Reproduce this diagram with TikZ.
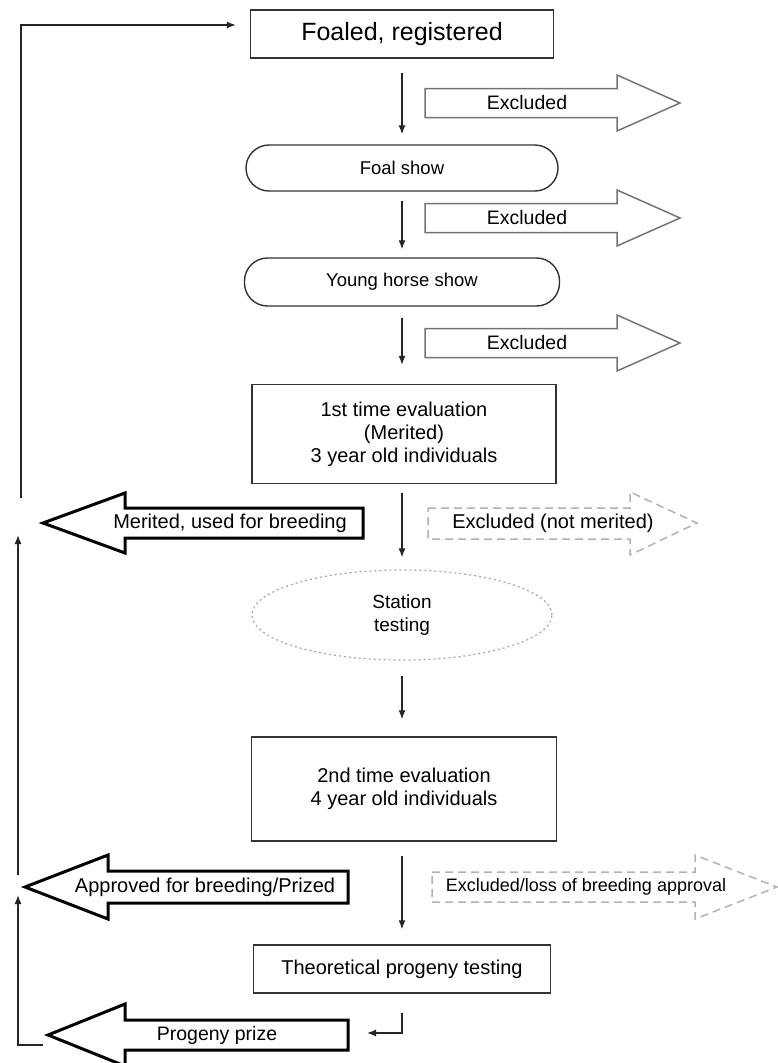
\documentclass[tikz,border=0pt]{standalone}
\usepackage{fontspec}
\setmainfont{Liberation Sans}
\usetikzlibrary{
    arrows.meta,
    shapes.geometric
}
\tikzset{
    >={Latex[length=9pt,width=7pt]},
    box/.style={
        rectangle, draw=black!80, line width=1.4pt,
        inner sep=0pt, align=center,
        font=\fontsize{20}{23}\selectfont
    },
    show/.style={box, rounded corners=23pt, font=\fontsize{18.5}{22}\selectfont},
    flow/.style={->, draw=black!85, line width=1.3pt},
    exarrow/.style={draw=black!55, line width=1.5pt},
    exdash/.style={draw=gray!60, line width=1.5pt, dash pattern=on 8pt off 5pt},
    keeparrow/.style={draw=black, line width=3pt},
    lbl/.style={inner sep=0pt, font=\fontsize{19.5}{22}\selectfont},
    keeplbl/.style={inner sep=0pt, font=\fontsize{20}{24}\selectfont}
}

\begin{document}
\begin{tikzpicture}[x=1pt, y=-1pt]
    \useasboundingbox (0,0) rectangle (777,1063);

    % Etapas
    \node[box, minimum width=303pt, minimum height=48pt,
          font=\fontsize{25}{30}\selectfont]      (foaled) at (402,34)  {Foaled, registered};
    \node[show, minimum width=312pt, minimum height=46pt] (foal)   at (402,168) {Foal show};
    \node[show, minimum width=315pt, minimum height=48pt] (young)  at (402,282) {Young horse show};
    \node[box, minimum width=304pt, minimum height=99pt]  (eval1)  at (404,434)
        {1st time evaluation\\(Merited)\\3 year old individuals};
    \node[ellipse, draw=gray!70, line width=1.2pt, dash pattern=on 2pt off 3pt,
          minimum width=300pt, minimum height=90pt, inner sep=0pt, align=center,
          font=\fontsize{19}{23}\selectfont]     (station) at (402,615) {Station\\testing};
    \node[box, minimum width=305pt, minimum height=104pt] (eval2) at (404,789)
        {2nd time evaluation\\4 year old individuals};
    \node[box, minimum width=297pt, minimum height=48pt]  (theo)  at (402,969)
        {Theoretical progeny testing};

    % Flujo principal
    \draw[flow, shorten <=14pt, shorten >=10pt] (foaled) -- (foal);
    \draw[flow, shorten <=9pt,  shorten >=8pt]  (foal) -- (young);
    \draw[flow, shorten <=11pt, shorten >=19pt] (young) -- (eval1.north -| young);
    \draw[flow, shorten <=9pt,  shorten >=12pt] (eval1.south -| station) -- (station);
    \draw[flow, shorten <=15pt, shorten >=17pt] (station) -- (eval2.north -| station);
    \draw[flow, shorten <=14pt, shorten >=15pt] (eval2.south -| theo) -- (theo);

    % Excluidos
    \foreach \y/\n in {103/exa, 218/exb, 343/exc}{
        \draw[exarrow] (425,\y-14.5) -- (617,\y-14.5) -- (617,\y-28)
            -- (680,\y) -- (617,\y+28) -- (617,\y+14.5) -- (425,\y+14.5) -- cycle;
        \node[lbl] (\n) at (527,\y) {Excluded};
    }
    \draw[exdash] (428,508) -- (630,508) -- (630,492) -- (697,523)
        -- (630,555) -- (630,539) -- (428,539) -- cycle;
    \node[lbl, font=\fontsize{20}{24}\selectfont] (notmer) at (553,523) {Excluded (not merited)};
    \draw[exdash] (432,872) -- (695,872) -- (695,855) -- (777,887)
        -- (695,919) -- (695,902) -- (432,902) -- cycle;
    \node[lbl, font=\fontsize{18}{21}\selectfont] (loss) at (586,887)
        {Excluded/loss of breeding approval};

    % Vuelta a la cria
    \draw[keeparrow] (363,508) -- (125,508) -- (125,493) -- (43,523)
        -- (125,553) -- (125,538) -- (363,538) -- cycle;
    \node[keeplbl] (merited) at (230,523) {Merited, used for breeding};

    \draw[keeparrow] (348,871) -- (108,871) -- (108,855) -- (25,887)
        -- (108,919) -- (108,903) -- (348,903) -- cycle;
    \node[keeplbl] (approved) at (205,887) {Approved for breeding/Prized};

    \draw[keeparrow] (348,1020) -- (125,1020) -- (125,1004) -- (48,1035)
        -- (125,1066) -- (125,1050) -- (348,1050) -- cycle;
    \node[keeplbl, font=\fontsize{19.5}{24}\selectfont] (prize) at (217,1035) {Progeny prize};

    \coordinate (prizeTail) at (348,1033);
    \draw[flow, shorten <=19pt, shorten >=19pt] (theo.south) |- (prizeTail);

    \coordinate (prizeEnd)  at (43,1045);
    \coordinate (apprEnd)   at (18,895);
    \coordinate (apprLow)   at (18,875);
    \coordinate (meritEnd)  at (18,535);
    \coordinate (meritLow)  at (21,498);
    \draw[flow] (prizeEnd) -| (apprEnd);
    \draw[flow] (apprLow) -- (meritEnd);
    \draw[flow, shorten >=14pt] (meritLow) |- ([yshift=9pt]foaled.west);

\end{tikzpicture}
\end{document}
